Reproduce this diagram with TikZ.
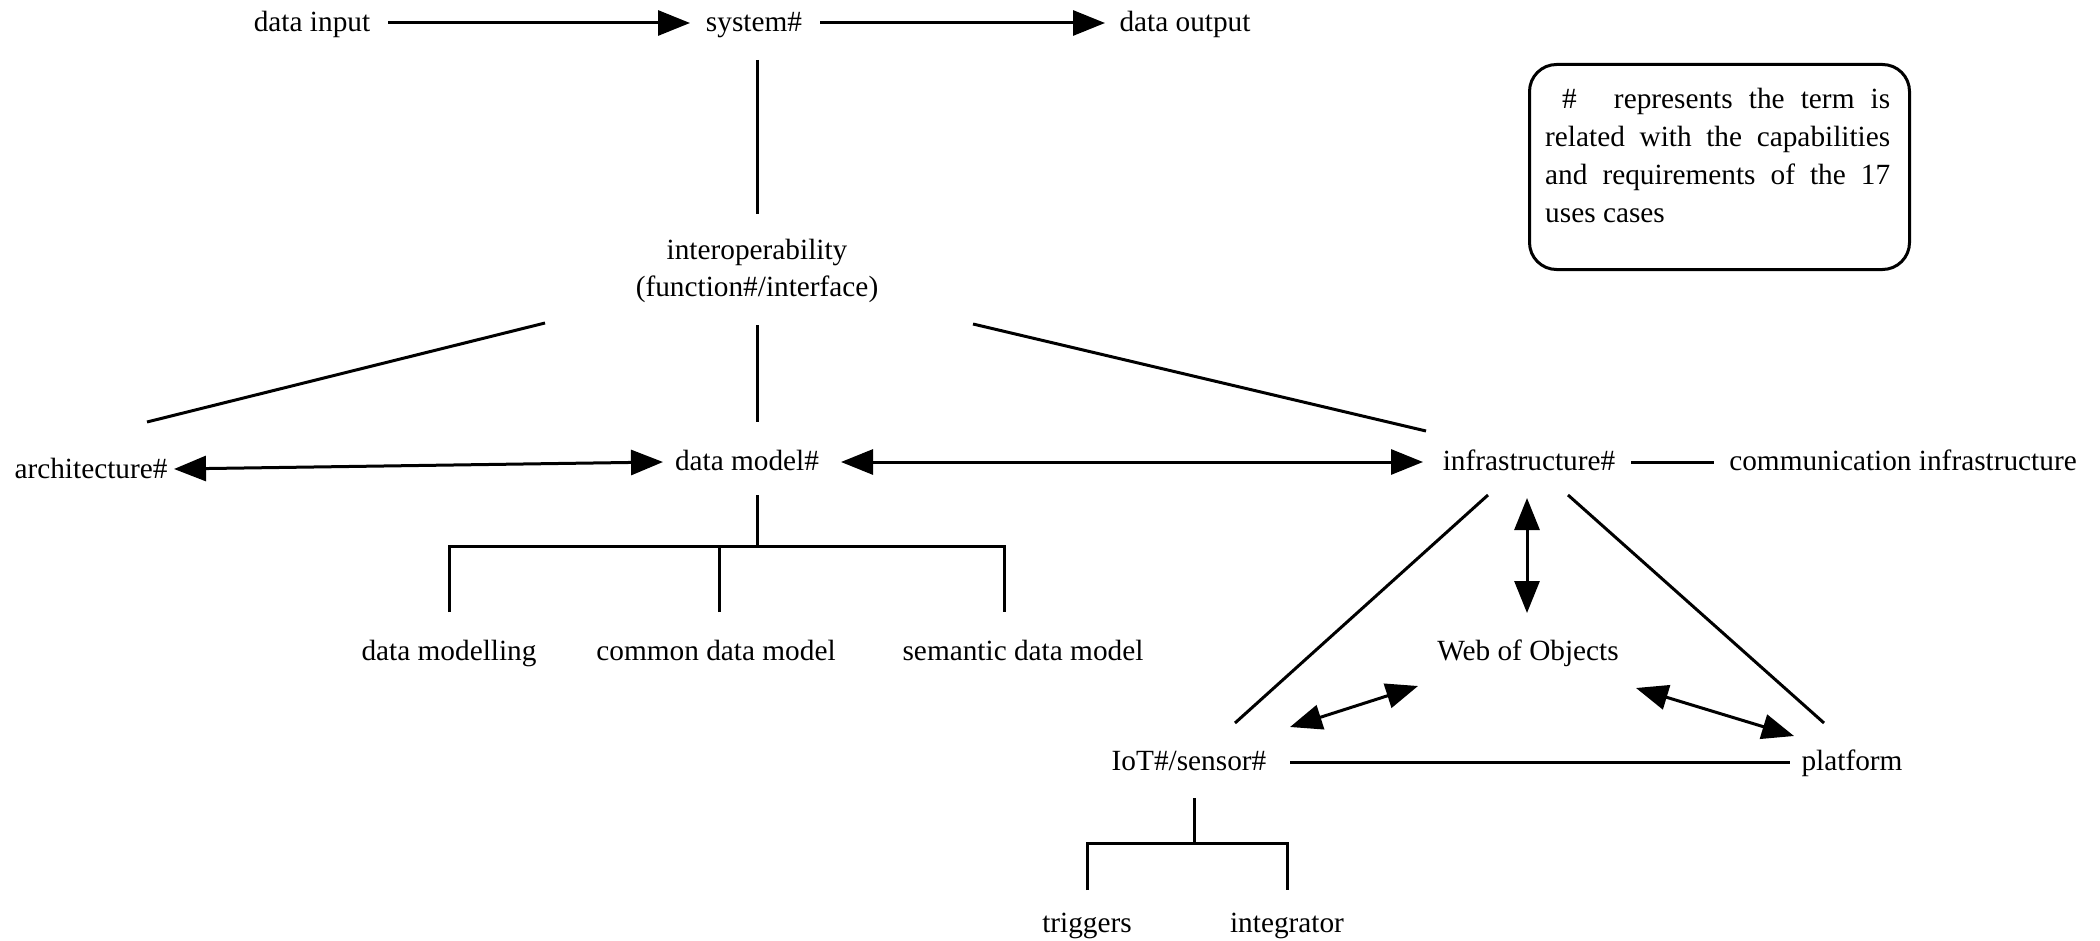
\documentclass[tikz,border=0pt]{standalone}
\usepackage{fontspec}
\setmainfont{Liberation Serif}
\usetikzlibrary{arrows.meta}
\begin{document}
\begin{tikzpicture}[x=1pt,y=-1pt,
  txt/.style={font=\fontsize{29.3}{37.5}\selectfont},
  lbl/.style={txt, inner sep=0pt, text height=20.5pt, text depth=6.5pt},
  link/.style={line width=3pt},
  onearr/.style={link, -{Triangle[length=32pt,width=25pt]}},
  twoarr/.style={link, {Triangle[length=32pt,width=25pt]}-{Triangle[length=32pt,width=25pt]}},
]
\useasboundingbox (0,0) rectangle (2100,941);

% top row
\node[lbl] (din)  at (312,25)  {data input};
\node[lbl] (sys)  at (754,25)  {system\#};
\node[lbl] (dout) at (1185,25) {data output};

\node[txt, inner sep=0pt, align=center] (interop) at (757,271)
  {interoperability\\(function\#/interface)};

% middle row
\node[lbl] (arch)  at (91,471)   {architecture\#};
\node[lbl] (dm)    at (747,463)  {data model\#};
\node[lbl] (infra) at (1529,463) {infrastructure\#};
\node[lbl] (comm)  at (1903,463) {communication infrastructure};

% data model children
\node[lbl] (dmod) at (449,653)  {data modelling};
\node[lbl] (cdm)  at (716,653)  {common data model};
\node[lbl] (sdm)  at (1023,653) {semantic data model};

% infrastructure triangle
\node[lbl] (web)  at (1528,653) {Web of Objects};
\node[lbl] (iot)  at (1189,763) {IoT\#/sensor\#};
\node[lbl] (plat) at (1852,763) {platform};

% sensor children
\node[lbl] (trig)  at (1087,925) {triggers};
\node[lbl] (integ) at (1287,925) {integrator};

% legend
\node[draw, line width=3pt, rounded corners=27pt, minimum width=380pt,
      minimum height=205pt, anchor=north west, inner sep=0pt] (legend) at (1528,63) {};
\node[font=\fontsize{29.3}{38}\selectfont, text width=345pt, align=justify,
      inner sep=0pt, anchor=north west] (legtext) at (1545,88)
  {\hspace*{17pt}\#\hspace{21pt} represents the term is\linebreak
   related with the capabilities\linebreak
   and requirements of the 17\linebreak
   uses cases};

% top row connectors
\draw[onearr] ([shift={(76,-2)}]din.center) -- ([shift={(-64,-2)}]sys.center);
\draw[onearr] ([shift={(66,-2)}]sys.center) -- ([shift={(-80,-2)}]dout.center);
\draw[link] ([shift={(3,35)}]sys.center) -- ([shift={(0,-57)}]interop.center);

% interoperability fan-out
\draw[link] ([shift={(-212,52)}]interop.center) -- ([shift={(56,-49)}]arch.center);
\draw[link] ([shift={(0,54)}]interop.center) -- ([shift={(10,-41)}]dm.center);
\draw[link] ([shift={(216,53)}]interop.center) -- ([shift={(-103,-32)}]infra.center);

% middle row connectors
\draw[twoarr] ([shift={(83,-2)}]arch.center) -- ([shift={(-84,-1)}]dm.center);
\draw[twoarr] ([shift={(94,-1)}]dm.center) -- ([shift={(-106,-1)}]infra.center);
\draw[link] ([shift={(102,-1)}]infra.center) -- ([shift={(-189,-1)}]comm.center);

% data model tree
\draw[link] ([shift={(10,32)}]dm.center) -- ([shift={(10,83)}]dm.center);
\draw[link] ([shift={(0,-41)}]dmod.center) |- ([shift={(-19,-107)}]sdm.center)
  -- ([shift={(-19,-41)}]sdm.center);
\draw[link] ([shift={(3,-41)}]cdm.center) -- ([shift={(3,-107)}]cdm.center);

% infrastructure triangle connectors
\draw[twoarr] ([shift={(-2,35)}]infra.center) -- ([shift={(-1,-40)}]web.center);
\draw[link] ([shift={(-41,32)}]infra.center) -- ([shift={(46,-40)}]iot.center);
\draw[link] ([shift={(39,32)}]infra.center) -- ([shift={(-28,-40)}]plat.center);
\draw[twoarr] ([shift={(101,-36)}]iot.center) -- ([shift={(-110,33)}]web.center);
\draw[twoarr] ([shift={(108,35)}]web.center) -- ([shift={(-58,-27)}]plat.center);
\draw[link] ([shift={(101,-1)}]iot.center) -- ([shift={(-62,-1)}]plat.center);

% sensor tree
\draw[link] ([shift={(5,35)}]iot.center) -- ([shift={(5,80)}]iot.center);
\draw[link] ([shift={(0,-35)}]trig.center) |- ([shift={(0,-82)}]integ.center)
  -- ([shift={(0,-35)}]integ.center);
\end{tikzpicture}
\end{document}
